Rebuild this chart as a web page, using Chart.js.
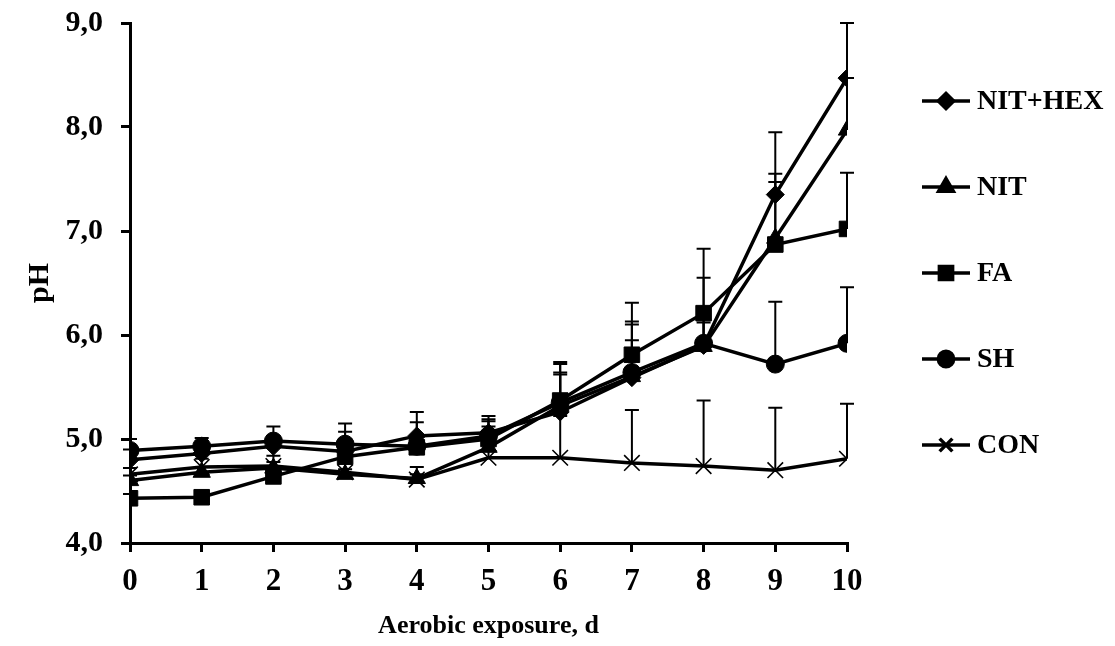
<!DOCTYPE html>
<html>
<head>
<meta charset="utf-8">
<script src="https://cdn.jsdelivr.net/npm/chart.js@4.4.1/dist/chart.umd.min.js"></script>
<style>
  html, body { margin: 0; padding: 0; background: #fff; }
  #wrap { width: 1115px; height: 646px; }
</style>
</head>
<body>
<div id="wrap"><canvas id="phChart" width="1115" height="646"></canvas></div>
<script>
// days of aerobic exposure
const days = [0, 1, 2, 3, 4, 5, 6, 7, 8, 9, 10];

// pH means
const nitHex = [4.80, 4.86, 4.93, 4.88, 5.03, 5.06, 5.26, 5.59, 5.90, 7.35, 8.47];
const nit    = [4.60, 4.68, 4.72, 4.66, 4.62, 4.92, 5.32, 5.60, 5.89, 6.93, 7.97];
const fa     = [4.43, 4.44, 4.64, 4.83, 4.92, 5.00, 5.37, 5.81, 6.21, 6.87, 7.02];
const sh     = [4.89, 4.93, 4.98, 4.95, 4.93, 5.03, 5.35, 5.64, 5.92, 5.72, 5.92];
const con    = [4.66, 4.73, 4.74, 4.68, 4.61, 4.82, 4.82, 4.77, 4.74, 4.70, 4.81];

// standard deviations (only upper bar is drawn)
const nitHexSd = [0.10, 0.08, 0.10, 0.12, 0.23, 0.16, 0.38, 0.51, 0.65, 0.60, 0.53];
const nitSd    = [0.05, 0.05, 0.06, 0.05, 0.04, 0.10, 0.30, 0.35, 0.30, 0.62, 0.50];
const faSd     = [0.04, 0.05, 0.05, 0.24, 0.24, 0.17, 0.37, 0.50, 0.62, 0.60, 0.54];
const shSd     = [0.11, 0.08, 0.14, 0.20, 0.10, 0.16, 0.37, 0.49, 0.20, 0.60, 0.54];
const conSd    = [0.06, 0.08, 0.10, 0.10, 0.12, 0.30, 0.40, 0.51, 0.63, 0.60, 0.53];

const labels = ['NIT+HEX', 'NIT', 'FA', 'SH', 'CON'];
const yTicks = [4, 5, 6, 7, 8, 9];

const FONT = "'Liberation Serif', 'Times New Roman', serif";

const series = [
  { name: labels[0], vals: nitHex, sd: nitHexSd, style: 'rectRot', r: 9 },
  { name: labels[1], vals: nit, sd: nitSd, style: 'triangle', r: 10 },
  { name: labels[2], vals: fa, sd: faSd, style: 'rect', r: 11 },
  { name: labels[3], vals: sh, sd: shSd, style: 'circle', r: 9 },
  { name: labels[4], vals: con, sd: conSd, style: 'crossRot', r: 11 }
];

const errorBars = {
  id: 'errorBars',
  beforeDatasetsDraw(chart) {
    const ctx = chart.ctx;
    const xs = chart.scales.x, ys = chart.scales.y;
    ctx.save();
    ctx.strokeStyle = '#000';
    ctx.lineWidth = 2;
    series.forEach(s => {
      s.vals.forEach((v, i) => {
        const x = xs.getPixelForValue(days[i]);
        const y0 = ys.getPixelForValue(v);
        const y1 = ys.getPixelForValue(v + s.sd[i]);
        ctx.beginPath();
        ctx.moveTo(x, y0);
        ctx.lineTo(x, y1);
        ctx.moveTo(x - 7, y1);
        ctx.lineTo(x + 7, y1);
        ctx.stroke();
      });
    });
    ctx.restore();
  }
};

const sideLegend = {
  id: 'sideLegend',
  afterDraw(chart) {
    const ctx = chart.ctx;
    ctx.save();
    chart.data.datasets.forEach((ds, i) => {
      const y = 101 + i * 86;
      ctx.strokeStyle = '#000';
      ctx.lineWidth = 3.5;
      ctx.beginPath();
      ctx.moveTo(922, y);
      ctx.lineTo(970, y);
      ctx.stroke();
      ctx.fillStyle = '#000';
      Chart.helpers.drawPoint(ctx, {
        pointStyle: ds.pointStyle,
        radius: ds.pointStyle === 'crossRot' ? 9 : ds.pointRadius * 0.85,
        rotation: 0,
        borderWidth: ds.pointBorderWidth
      }, 946, y);
      ctx.font = 'bold 28px ' + FONT;
      ctx.textBaseline = 'middle';
      ctx.textAlign = 'left';
      ctx.fillText(ds.label, 977, y + 1);
    });
    ctx.restore();
  }
};

new Chart(document.getElementById('phChart'), {
  type: 'line',
  data: {
    datasets: series.map(s => ({
      label: s.name,
      data: s.vals.map((v, i) => ({ x: days[i], y: v })),
      borderColor: '#000',
      backgroundColor: '#000',
      borderWidth: 3.5,
      tension: 0,
      pointStyle: s.style,
      pointRadius: s.r,
      pointBackgroundColor: '#000',
      pointBorderColor: '#000',
      pointBorderWidth: s.style === 'crossRot' ? 1.6 : 1
    }))
  },
  options: {
    responsive: false,
    animation: false,
    layout: { padding: { top: 23, right: 268, left: 0, bottom: 0 } },
    plugins: { legend: { display: false }, tooltip: { enabled: false } },
    scales: {
      x: {
        type: 'linear', min: 0, max: 10,
        ticks: { stepSize: 1, color: '#000', padding: 11, font: { family: FONT, size: 31, weight: 'bold' } },
        grid: { drawOnChartArea: false, color: '#000', lineWidth: 3, tickLength: 9 },
        border: { color: '#000', width: 3 },
        title: { display: true, text: 'Aerobic exposure, d', color: '#000', font: { family: FONT, size: 26, weight: 'bold' } },
        afterFit: s => { s.height = 103; s.paddingLeft = 0; s.paddingRight = 0; }
      },
      y: {
        min: 4, max: 9,
        afterBuildTicks: s => { s.ticks = yTicks.map(v => ({ value: v })); },
        ticks: { color: '#000', padding: 18, font: { family: FONT, size: 30, weight: 'bold' },
          callback: v => v.toFixed(1).replace('.', ',') },
        grid: { drawOnChartArea: false, color: '#000', lineWidth: 3, tickLength: 9 },
        border: { color: '#000', width: 3 },
        title: { display: true, text: 'pH', color: '#000', padding: { top: 22, bottom: 0 }, font: { family: FONT, size: 30, weight: 'bold' } },
        afterFit: s => { s.width = 130; s.paddingTop = 0; s.paddingBottom = 0; }
      }
    }
  },
  plugins: [errorBars, sideLegend]
});
</script>
</body>
</html>
